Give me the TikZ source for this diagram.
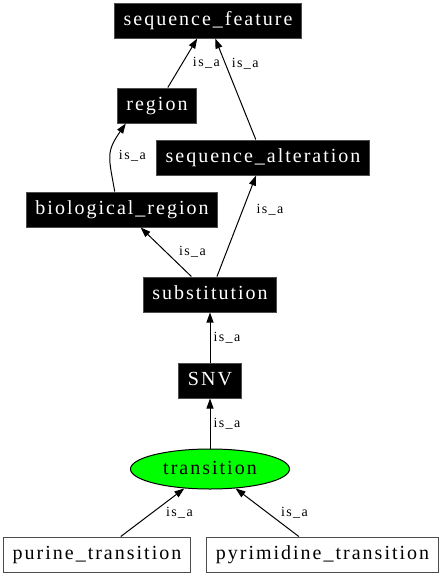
\documentclass[tikz,border=0pt]{standalone}
\usepackage{fontspec}
\setmainfont{Liberation Serif}
\usetikzlibrary{arrows.meta}
\usetikzlibrary{positioning}
\usetikzlibrary{shapes.geometric}
\definecolor{focusgreen}{RGB}{0,255,0}

% spread the letters a little, as the reference does
\ExplSyntaxOn
\NewDocumentCommand\tracked{O{0.1em}m}{\tl_map_inline:nn {#2} {##1\kern #1}\unkern}
\ExplSyntaxOff

\begin{document}
\begin{tikzpicture}[x=0.75pt,y=-0.75pt]
\useasboundingbox (0,0) rectangle (441,576);

\begin{scope}[every node/.style={rectangle,draw=black!70,line width=0.75pt,
                                 minimum height=26.25pt,inner xsep=6.75pt,inner ysep=0pt,
                                 text height=10.5pt,text depth=3pt,
                                 font=\fontsize{15}{18}\selectfont},
              term/.style={fill=black,text=white},
              leaf/.style={fill=white,text=black},
              focus/.style={ellipse,draw=black,fill=focusgreen,text=black,
                            minimum width=119.25pt,minimum height=30pt,inner sep=0pt}]
    \node[term] (seq_feature)  at (208,20.5)    {\tracked{sequence\_feature}};
    \node[term] (region)       at (157,105.5)   {\tracked{region}};
    \node[term] (seq_alter)    at (263,157.5)   {\tracked{sequence\_alteration}};
    \node[term] (bio_region)   at (122,209.5)   {\tracked{biological\_region}};
    \node[term] (substitution) at (210,294.5)   {\tracked{substitution}};
    \node[term,below=37.5pt of {substitution}] (snv)        {\tracked{SNV}};
    \node[focus,below=37.5pt of {snv}]         (transition) {\tracked{transition}};
    \node[leaf] (purine)       at (97,554.5)    {\tracked{purine\_transition}};
    \node[leaf] (pyrimidine)   at (322.5,554.5) {\tracked{pyrimidine\_transition}};
\end{scope}

\begin{scope}[>={Triangle[length=7.5pt,width=5.25pt]},
              every node/.style={font=\fontsize{10.5}{12}\selectfont,inner sep=0pt},
              every edge/.style={draw=black,line width=0.75pt}]
    \path [->] (region)         edge                          node[pos=0.5,right=7.5pt]  {\tracked{is\_a}} (seq_feature);
    \path [->] (seq_alter)      edge                          node[pos=0.75,right=4.5pt] {\tracked{is\_a}} (seq_feature);
    \path [->] (bio_region.112) edge[out=100,in=235,looseness=1.3] node[pos=0.5,right=6pt] {\tracked{is\_a}} (region.210);
    \path [->] (substitution)   edge                          node[pos=0.5,right=9.4pt]  {\tracked{is\_a}} (bio_region);
    \path [->] (substitution)   edge                          node[pos=0.66,right=10pt]  {\tracked{is\_a}} (seq_alter);
    \path [->] (snv)            edge                          node[pos=0.5,right=2.25pt] {\tracked{is\_a}} (substitution);
    \path [->] (transition)     edge                          node[pos=0.5,right=2.25pt] {\tracked{is\_a}} (snv);
    \path [->] (purine)         edge                          node[pos=0.5,right=9.75pt] {\tracked{is\_a}} (transition);
    \path [->] (pyrimidine)     edge                          node[pos=0.5,right=10pt]   {\tracked{is\_a}} (transition);
\end{scope}
\end{tikzpicture}
\end{document}
